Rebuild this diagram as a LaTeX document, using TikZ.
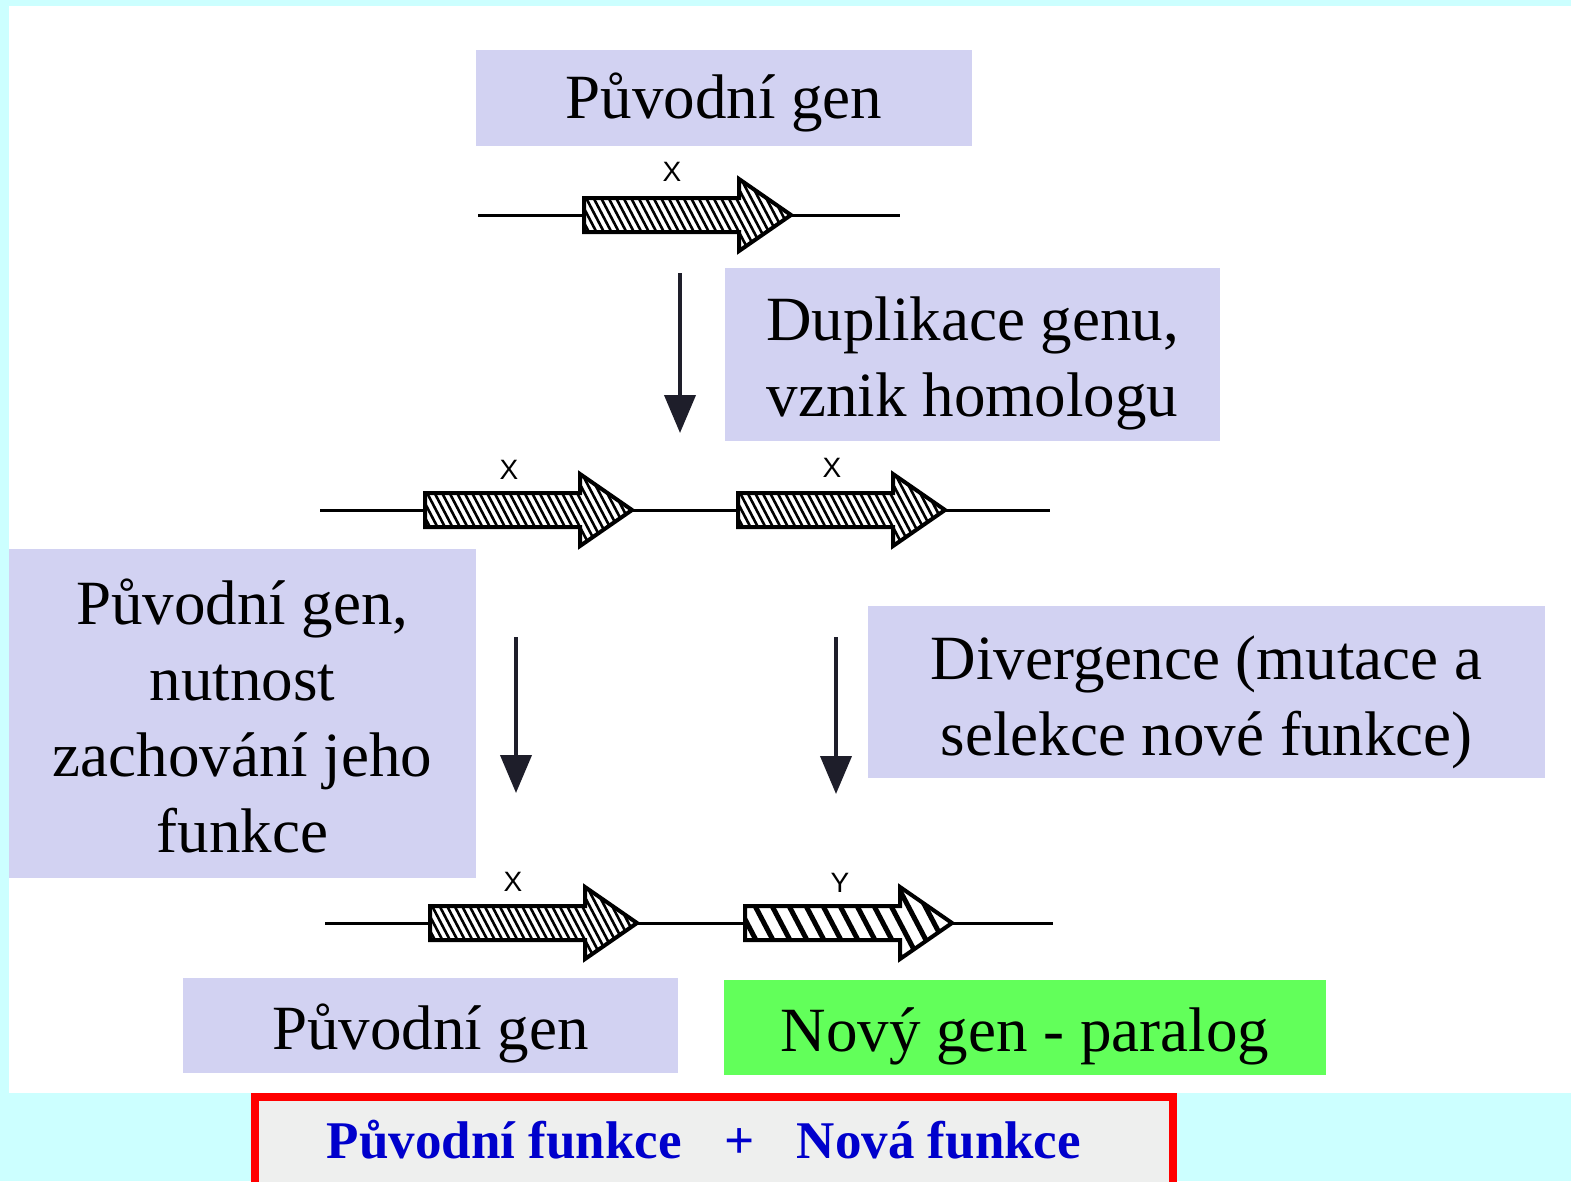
\documentclass[tikz,border=0pt]{standalone}
\usepackage{fontspec}
\setmainfont{Liberation Serif}
\newfontfamily\labelfont{Liberation Sans}
\usetikzlibrary{arrows.meta}

\definecolor{myback}{RGB}{204,255,255}
\definecolor{mylavender}{RGB}{210,210,242}
\definecolor{mygreen}{RGB}{98,255,90}
\definecolor{myblue}{RGB}{0,0,204}
\definecolor{mygray}{RGB}{238,239,238}
\definecolor{myarrow}{RGB}{30,30,42}

% taller first line, moves the text down in its box
\newcommand{\lift}[1]{\rule{0pt}{#1}}

\begin{document}
\begin{tikzpicture}[x = 1pt, y = -1pt]
		\tikzstyle{every node} = [font = \fontsize{63}{76}\selectfont]
		\tikzstyle{textbox} = [fill = mylavender, inner sep = 0, align = center]
		\tikzstyle{genelabel} = [font = \labelfont\fontsize{28}{32}\selectfont]
		\tikzstyle{down} = [myarrow, line width = 4pt, -{Triangle[length = 38pt, width = 31pt]}]

		\useasboundingbox (0,0) rectangle (1571,1181);
		\clip (0,0) rectangle (1571,1181);
		\fill [myback] (0,0) rectangle (1571,1181);
		\fill [white] (9,6) rectangle (1571,1093);

		% DNA lines
		\draw [line width = 3pt] (478,215) -- (900,215); %top
		\draw [line width = 3pt] (320,510) -- (1050,510); %after duplication
		\draw [line width = 3pt] (325,923) -- (1053,923); %after divergence

		% genes: start x / middle y / hatch step / hatch width
		\foreach \x/\y/\d/\w in {584/215/7.5/2.6, 425/510/7.5/2.6, 738/510/7.5/2.6, 430/923/7.5/2.6, 745/923/17/5}
		{
			\fill [white] (\x,\y-17) -- (\x+155,\y-17) -- (\x+155,\y-36) -- (\x+207,\y) -- (\x+155,\y+36) -- (\x+155,\y+17) -- (\x,\y+17) -- cycle;
			\begin{scope}
			\clip (\x,\y-17) -- (\x+155,\y-17) -- (\x+155,\y-36) -- (\x+207,\y) -- (\x+155,\y+36) -- (\x+155,\y+17) -- (\x,\y+17) -- cycle;
			\pgfmathsetmacro{\n}{int(300/\d)}
			\foreach \k in {0,...,\n}
			{
				\draw [line width = \w pt] (\x-70+\k*\d,\y-40) -- ++(42,80);
			}
			\end{scope}
			\draw [line width = 4pt, line join = miter] (\x,\y-17) -- (\x+155,\y-17) -- (\x+155,\y-36) -- (\x+207,\y) -- (\x+155,\y+36) -- (\x+155,\y+17) -- (\x,\y+17) -- cycle;
		}

		% gene names
		\node [genelabel] (x1) at (672,172) {X};
		\node [genelabel] (x2) at (509,470) {X};
		\node [genelabel] (x3) at (832,468) {X};
		\node [genelabel] (x4) at (513,882) {X};
		\node [genelabel] (y1) at (840,883) {Y};

		% steps
		\coordinate (s1) at (680,273);
		\coordinate (e1) at (680,433);
		\coordinate (s2) at (516,637);
		\coordinate (e2) at (516,793);
		\coordinate (s3) at (836,637);
		\coordinate (e3) at (836,794);
		\draw [down] (s1) -- (e1);
		\draw [down] (s2) -- (e2);
		\draw [down] (s3) -- (e3);

		% text boxes
		\node [textbox, minimum width = 496, minimum height = 96] (orig) at (724,98) {\lift{55pt}Původní gen};
		\node [textbox, minimum width = 495, minimum height = 173] (dup) at (972.5,354.5) {\lift{62pt}Duplikace genu,\\vznik homologu};
		\node [textbox, minimum width = 467, minimum height = 329] (keep) at (242.5,713.5) {\lift{51pt}Původní gen,\\nutnost\\zachování jeho\\funkce};
		\node [textbox, minimum width = 677, minimum height = 172] (div) at (1206.5,692) {\lift{65pt}Divergence (mutace a\\selekce nové funkce)};
		\node [textbox, minimum width = 495, minimum height = 95] (old) at (430.5,1025.5) {\lift{62pt}Původní gen};
		\node [textbox, fill = mygreen, minimum width = 602, minimum height = 95] (new) at (1025,1027.5) {\lift{62pt}Nový gen - paralog};

		% result
		\draw [red, line width = 8pt, fill = mygray] (255,1097) rectangle (1173,1200);
		\node [font = \bfseries\fontsize{53}{60}\selectfont, text = myblue] (result) at (704,1140) {Původní funkce\hspace{0.8em}+\hspace{0.8em}Nová funkce};
	\end{tikzpicture}
\end{document}
